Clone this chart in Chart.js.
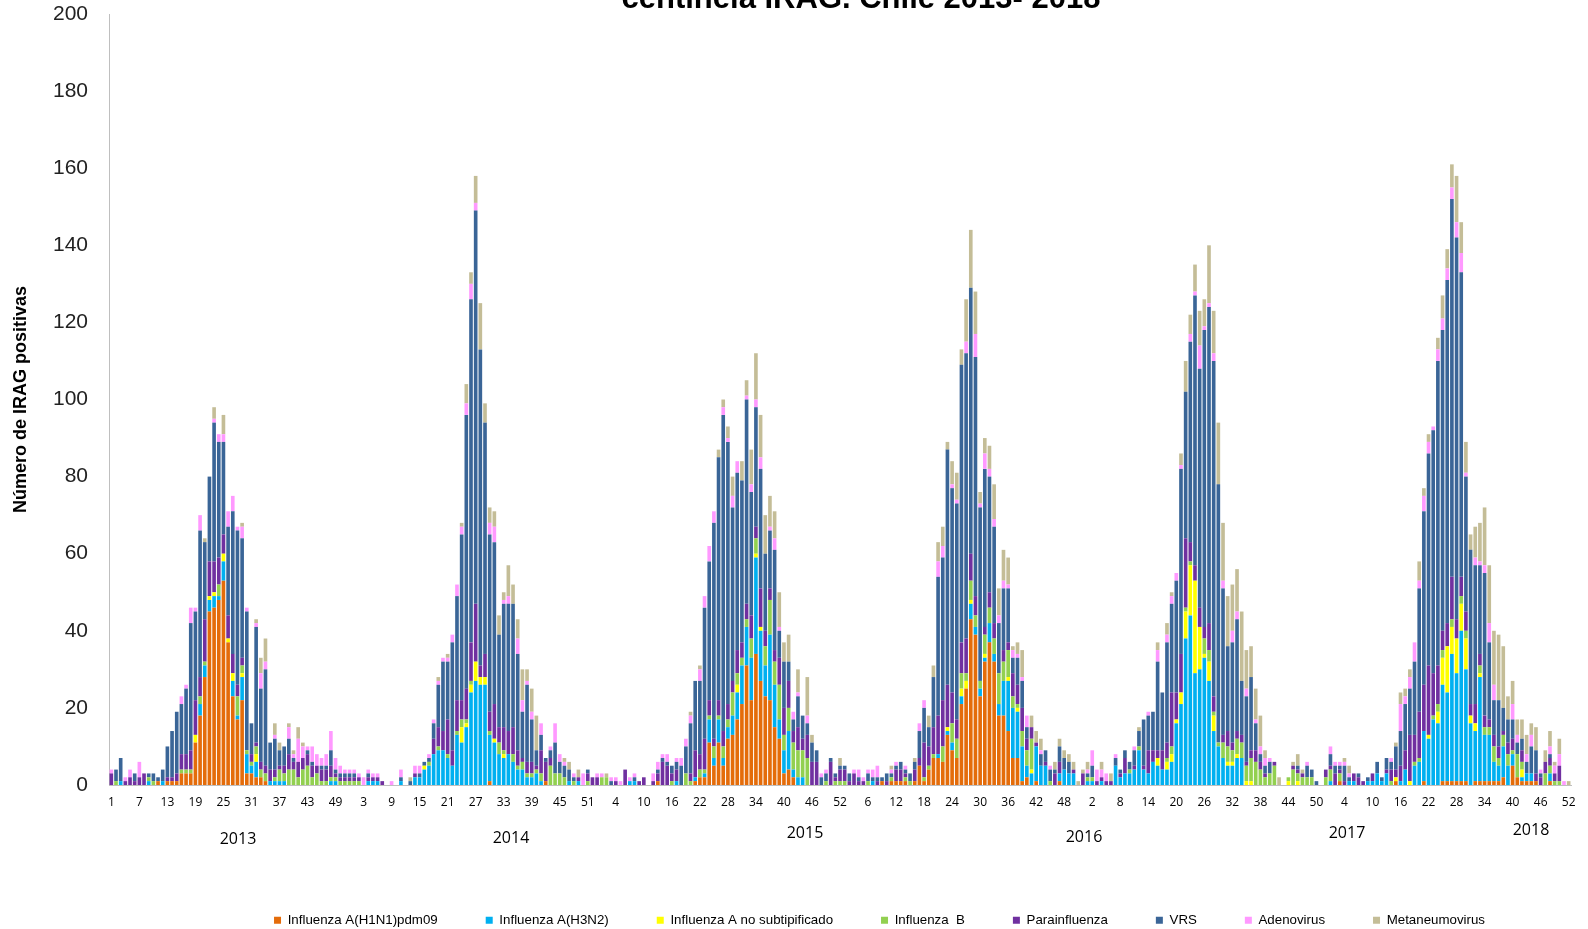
<!DOCTYPE html>
<html><head><meta charset="utf-8">
<script src="https://cdn.jsdelivr.net/npm/chart.js@4.4.1/dist/chart.umd.min.js"></script>
<style>
html,body{margin:0;padding:0;background:#fff;}
#wrap{position:relative;width:1588px;height:929px;overflow:hidden;background:#fff;}
canvas{position:absolute;left:0;top:0;}
.title{position:absolute;left:361px;width:1000px;top:-18px;text-align:center;font:bold 31px "Liberation Sans",Arial,sans-serif;line-height:31px;color:#000;white-space:nowrap;}
.year{position:absolute;font:16px "Open Sans",sans-serif;color:#000;transform:translate(-50%,-50%);white-space:nowrap;}
</style></head><body>
<div id="wrap">
<canvas id="c" width="1588" height="929"></canvas>
<div class="title" id="title"></div>
<div class="year" style="left:238px;top:838px"></div>
<div class="year" style="left:511px;top:837px"></div>
<div class="year" style="left:805px;top:832px"></div>
<div class="year" style="left:1084px;top:836px"></div>
<div class="year" style="left:1347px;top:832px"></div>
<div class="year" style="left:1531px;top:829px"></div>
</div>
<script>
const chartTitle = 'centinela IRAG. Chile 2013- 2018';
const years = ['2013','2014','2015','2016','2017','2018'];
const weeksPerYear = [52,53,52,52,52,52];
const seriesNames = ['Influenza A(H1N1)pdm09','Influenza A(H3N2)','Influenza A no subtipificado','Influenza  B','Parainfluenza','VRS','Adenovirus','Metaneumovirus'];

const h1n1 = [
 0,0,0,0,0,0,0,0,0,0, 1,0,1,1,1,3,3,3,11,18, 28,45,46,48,53,37,23,17,22,3, 3,2,2,1,0,0,0,0,0,0, 0,0,0,0,0,0,0,0,0,0,0,0,
 0,0,0,0,0,0,0,0,0,0, 0,0,0,0,0,0,0,0,0,0, 0,0,0,0,0,0,0,0,0,1, 0,0,0,0,0,0,0,0,0,0, 0,1,0,0,0,0,0,0,0,0,0,0,0,
 0,0,0,0,0,0,0,0,0,0, 0,0,1,0,0,0,0,0,0,0, 1,2,2,11,5,11,5,12,13,17, 21,31,22,34,27,23,22,15,12,3, 4,2,0,0,0,0,0,0,0,0,0,0,
 0,0,0,0,0,0,0,0,1,0, 1,1,1,1,0,1,5,1,4,7, 7,6,13,9,7,21,25,43,39,23, 32,37,32,18,18,14,7,7,1,2, 0,1,0,0,0,0,1,0,0,0,0,0,
 0,0,0,0,0,0,0,0,0,0, 0,0,0,0,0,0,0,0,0,0, 0,0,0,0,0,0,0,0,0,0, 0,0,0,0,0,0,0,0,0,0, 0,0,0,0,0,0,0,0,0,0,0,0,
 0,0,1,0,0,0,0,0,0,0, 0,0,0,0,1,0,0,0,0,0, 1,0,0,0,1,1,1,1,1,1, 0,1,1,1,1,1,1,2,0,5, 2,1,1,1,1,0,0,1,0,0,0,0
];
const h3n2 = [
 0,0,1,0,0,0,0,0,1,0, 0,1,0,0,0,0,0,0,0,3, 3,3,3,1,5,0,4,1,6,5, 2,4,0,0,1,1,1,1,0,0, 0,0,0,0,0,0,0,1,1,0,0,0,
 0,0,0,1,1,1,0,0,0,0, 1,0,0,2,2,4,5,8,9,9, 7,5,13,11,15,24,27,26,26,12, 11,8,7,8,6,4,4,2,2,3, 1,0,0,0,0,0,1,0,1,0,0,0,0,
 0,0,0,0,0,0,1,1,0,0, 0,0,0,0,0,0,1,0,0,0, 1,0,1,6,2,6,2,3,5,7, 10,10,11,25,13,8,17,11,5,6, 10,2,2,2,0,0,0,0,0,0,0,0,
 0,0,0,0,0,0,1,0,0,0, 0,0,0,0,0,0,0,0,0,0, 1,0,1,2,0,2,0,4,2,2, 1,5,2,3,9,13,13,12,9,3, 3,9,5,5,0,0,2,4,3,3,0,0,
 1,1,0,1,0,0,5,2,3,3, 4,9,4,3,6,5,4,4,6,16, 21,38,44,29,30,33,27,14,10,7, 5,5,7,7,0,0,0,0,0,0, 0,0,0,0,0,0,0,0,0,0,0,0,
 1,0,0,0,1,1,0,0,1,1, 3,1,3,0,0,1,4,0,5,6, 13,12,17,16,25,23,33,28,39,29, 16,13,27,12,12,5,4,8,5,3, 0,1,2,2,0,0,0,2,0,0,0,0
];
const aNoSub = [
 0,0,0,0,0,0,0,0,0,0, 0,0,0,0,0,0,0,0,2,0, 0,1,1,0,2,1,2,0,1,0, 0,2,0,0,0,0,0,0,0,0, 0,0,0,0,0,0,0,0,0,0,0,0,
 0,0,0,0,0,0,0,0,0,0, 0,0,0,0,0,1,0,0,0,0, 0,0,0,4,1,2,5,2,2,0, 1,0,1,0,0,0,0,0,0,0, 0,0,0,0,0,0,0,0,0,0,0,0,0,
 0,0,0,0,0,0,0,0,0,0, 0,0,0,0,0,0,0,0,0,0, 0,0,0,0,0,0,0,0,0,2, 0,0,0,1,1,0,0,0,0,0, 0,0,0,0,0,0,0,0,0,0,0,0,
 0,0,0,0,0,0,0,0,0,0, 0,0,0,0,0,0,0,0,0,0, 0,0,1,0,0,2,2,1,0,0, 1,0,0,0,0,1,0,1,0,0, 1,0,0,0,0,0,0,0,0,0,0,0,
 0,0,0,0,0,0,0,0,0,0, 0,0,0,0,0,2,0,2,2,1, 3,7,13,24,11,1,5,4,0,0, 1,1,1,0,1,1,0,0,0,0, 0,0,0,1,0,1,0,0,0,0,0,0,
 0,0,0,0,0,0,0,0,0,0, 0,0,0,0,1,0,0,1,0,0, 0,1,0,3,7,12,7,9,7,8, 2,2,1,0,0,0,0,0,0,0, 0,2,0,0,0,0,0,0,0,0,0,0
];
const infB = [
 0,1,0,0,0,0,0,0,1,1, 0,0,0,0,0,1,1,1,0,2, 1,0,0,3,0,0,0,5,2,1, 1,2,2,2,0,1,3,2,4,4, 2,4,5,2,3,1,1,1,1,1,1,1,
 1,1,0,0,0,0,0,0,0,0, 0,0,0,0,0,0,1,0,1,0, 1,0,1,2,1,1,0,0,0,1, 0,3,1,0,2,1,2,1,1,1, 2,0,5,3,3,2,0,1,0,0,1,0,0,
 2,2,0,0,0,0,0,0,0,0, 0,0,0,0,0,1,0,0,3,1, 0,2,1,1,3,1,3,2,6,3, 2,2,5,4,0,5,9,6,9,4, 6,7,7,7,7,0,0,0,1,0,1,1,
 1,0,0,0,0,1,0,0,0,0, 1,0,0,1,1,0,0,1,1,1, 0,4,0,5,5,4,2,5,3,2, 5,4,4,8,5,7,3,1,4,4, 8,0,0,0,1,0,0,0,0,0,0,0,
 1,1,0,0,0,0,0,0,0,1, 0,1,0,0,0,0,0,1,2,0, 0,1,1,0,0,4,3,1,1,4, 4,3,4,4,4,6,6,4,2,3, 5,0,0,1,4,2,2,2,2,0,0,2,
 3,0,2,0,0,0,0,0,0,0, 0,0,0,1,0,0,0,0,1,1, 0,0,1,2,2,0,2,0,2,2, 0,0,2,2,2,4,2,3,3,1, 6,2,0,0,0,0,3,2,1,1,0,0
];
const parainf = [
 3,0,0,1,2,1,2,3,0,0, 0,0,1,1,2,4,4,5,9,5, 11,9,8,7,5,6,5,3,2,0, 2,1,2,2,3,2,1,2,4,2, 4,3,3,3,2,3,3,3,1,1,1,1,
 1,1,0,1,1,1,1,0,0,0, 0,0,0,1,0,0,0,4,5,5, 9,4,8,5,8,10,15,3,6,5, 9,4,6,6,7,4,1,3,3,1, 6,5,2,0,0,0,0,0,1,0,2,2,2,
 0,0,0,1,0,4,0,0,1,2, 0,1,2,6,5,2,3,0,0,2, 7,4,8,4,2,4,4,4,3,6, 4,4,6,3,10,4,3,3,7,7, 7,3,6,3,6,6,6,0,0,6,1,3,
 3,1,3,1,1,0,0,1,0,1, 0,3,3,1,0,3,2,9,5,7, 10,12,11,8,5,8,9,7,5,0, 2,4,4,0,3,2,6,5,6,3, 3,1,0,1,0,3,3,0,0,1,0,3,
 0,0,1,1,1,1,0,1,4,0, 1,0,1,6,3,2,5,4,14,7, 10,18,5,4,5,3,7,4,0,2, 4,2,2,2,1,2,3,2,1,0, 1,0,0,0,1,1,1,0,0,0,0,2,
 1,3,1,1,0,2,2,1,0,2, 0,0,1,3,2,4,5,12,7,12, 12,18,11,10,5,6,11,5,5,5, 3,5,3,3,2,3,3,1,3,3, 0,3,0,0,2,2,3,2,2,4,0,0
];
const vrs = [
 0,3,6,0,0,2,0,0,1,2, 1,3,8,12,16,13,17,33,23,38, 20,22,36,30,24,23,37,40,31,36, 8,30,19,25,7,8,4,5,4,1, 0,0,1,1,0,1,1,4,1,1,1,1,
 1,0,0,1,0,0,0,0,0,0, 1,0,1,0,1,1,1,4,11,18, 15,28,27,43,71,89,102,82,60,46, 42,24,32,33,32,25,12,20,11,4, 4,1,2,8,3,3,3,1,0,0,1,0,0,
 0,0,1,0,0,0,0,1,0,0, 0,0,1,1,1,2,2,5,7,13, 18,19,34,36,56,63,82,68,45,46, 42,53,32,31,31,20,15,26,7,12, 5,3,8,6,3,5,3,2,2,1,1,1,
 1,2,0,1,0,2,1,1,1,2, 1,1,2,1,2,2,7,9,5,13, 36,37,61,53,56,72,74,69,62,45, 41,30,25,13,16,14,4,7,7,3, 0,0,3,3,3,1,4,3,3,0,0,0,
 1,3,0,0,0,0,2,1,2,2, 4,4,12,9,10,23,15,26,23,29, 48,38,52,70,62,77,82,87,67,38, 22,26,29,14,17,19,7,2,2,3, 0,0,0,0,0,1,0,3,2,1,0,0,
 3,2,1,4,1,0,1,0,1,0, 3,1,3,2,6,9,12,12,19,32, 45,55,63,79,78,89,98,99,79,35, 40,36,23,37,20,9,12,6,6,5, 3,3,3,7,6,1,0,1,0,0,0,0
];
const adeno = [
 1,0,0,1,2,0,4,0,0,0, 0,0,0,0,0,2,1,4,1,4, 0,0,1,2,2,4,4,1,3,1, 0,1,4,2,0,1,0,0,3,1, 6,3,1,4,3,2,3,5,3,2,1,1,
 1,1,2,1,1,1,0,0,1,0, 2,0,0,2,2,0,1,1,1,1, 1,2,3,2,3,4,2,0,0,3, 4,0,1,2,0,4,3,1,2,0, 3,0,1,5,2,1,0,1,0,3,0,0,1,
 1,0,1,1,1,0,1,1,0,0, 0,2,2,1,2,0,1,2,2,2, 0,3,3,4,3,0,2,1,3,3, 0,1,2,2,3,0,1,3,1,0, 0,2,1,0,2,0,0,1,1,0,0,0,
 0,0,1,2,1,1,2,3,0,0, 1,1,0,1,0,0,2,2,0,0, 4,3,0,1,1,0,3,0,6,1, 4,2,2,2,2,1,2,1,1,3, 0,0,1,0,1,0,0,0,0,0,0,0,
 1,4,3,2,2,0,1,0,0,0, 1,0,0,1,0,3,0,2,2,2, 1,0,2,1,6,1,1,2,0,2, 0,3,2,0,2,0,1,2,2,1, 0,0,0,0,0,0,0,1,0,0,0,0,
 2,1,1,1,1,0,0,0,0,0, 0,0,0,1,0,7,2,3,5,2, 4,3,1,3,3,3,3,4,5,1, 0,2,1,2,5,4,0,0,0,4, 2,0,2,3,0,1,0,2,2,3,1,0
];
const metaneumo = [
 0,0,0,0,0,0,0,0,0,0, 0,0,0,0,0,0,0,0,0,0, 1,0,3,0,5,0,0,0,1,0, 0,1,4,6,0,3,2,0,1,1, 3,1,0,0,0,0,0,0,0,0,0,0,
 0,0,0,0,0,0,0,0,0,0, 0,0,1,0,0,0,0,0,1,0, 1,0,0,1,5,3,7,12,5,4, 4,5,2,8,5,5,8,3,6,9, 0,0,0,0,0,1,2,0,2,0,0,0,0,
 0,1,0,0,0,0,0,0,0,0, 0,0,0,0,0,0,0,0,0,1, 0,1,0,0,0,2,2,3,5,0, 5,4,9,12,11,10,8,7,9,5, 7,0,6,0,10,2,0,0,0,0,0,2,
 0,0,0,0,0,0,0,0,0,0, 1,0,0,0,0,1,0,0,3,3, 5,5,2,6,7,4,11,15,11,3, 4,6,9,7,8,7,1,3,7,0, 3,3,3,0,0,2,2,2,2,2,1,1,
 2,0,0,2,0,2,0,0,0,0, 0,1,0,0,0,2,0,3,1,0, 3,8,5,7,9,7,15,11,16,15, 13,12,11,18,10,8,8,8,2,0, 0,2,0,0,1,3,1,0,0,0,0,0,
 0,0,0,1,2,0,0,0,0,0, 0,0,0,0,1,3,2,2,0,5, 2,2,0,3,6,5,6,12,8,8, 4,8,10,15,15,14,17,16,6,6, 4,5,5,3,6,0,3,4,1,4,0,1
];

const seriesValues = [h1n1, h3n2, aNoSub, infB, parainf, vrs, adeno, metaneumo];
const seriesColors = ['#E46C0A','#00B0F0','#FFFF00','#92D050','#7030A0','#3A6597','#FF99FF','#C4BD97'];

// week labels built from the number of weeks in each year
const weekLabels = [];
weeksPerYear.forEach(n => { for (let w = 1; w <= n; w++) weekLabels.push(String(w)); });
seriesValues.forEach((a, i) => { if (a.length !== weekLabels.length) console.error('length mismatch', seriesNames[i], a.length, weekLabels.length); });

document.getElementById('title').textContent = chartTitle;
document.querySelectorAll('.year').forEach((el, i) => { el.textContent = years[i]; });

const PLOT_BOTTOM = 785;

const legendShift = {
  id: 'legendShift',
  afterLayout(chart) {
    const l = chart.legend;
    if (!l) return;
    l.left += 89; l.right += 89; l.top += 8; l.bottom += 8;
  }
};

new Chart(document.getElementById('c'), {
  type: 'bar',
  data: {
    labels: weekLabels,
    datasets: seriesNames.map((name, i) => ({
      label: name,
      data: seriesValues[i],
      backgroundColor: seriesColors[i],
      borderWidth: 0,
      barPercentage: 0.78,
      categoryPercentage: 1
    }))
  },
  options: {
    responsive: false,
    animation: false,
    devicePixelRatio: 1,
    layout: { autoPadding: false, padding: { left: 10, right: 17, top: 14, bottom: 0 } },
    plugins: {
      legend: {
        position: 'bottom',
        labels: {
          boxWidth: 7, boxHeight: 7, padding: 48, color: '#000',
          font: { family: "'Liberation Sans',Arial", size: 13.3 }
        }
      },
      tooltip: { enabled: false },
      title: { display: false }
    },
    scales: {
      x: {
        stacked: true,
        grid: { display: false, drawTicks: false },
        border: { display: true, color: '#BFBFBF', width: 1 },
        ticks: {
          autoSkip: false, maxRotation: 0, minRotation: 0, padding: 10, color: '#000',
          font: { family: "'Open Sans'", size: 12 },
          callback: (v, i) => (i % 6 === 0 ? weekLabels[i] : '')
        },
        afterFit: s => {
          const lh = s.chart.legend ? s.chart.legend.height : 0;
          s.height = s.chart.height - PLOT_BOTTOM - lh;
        }
      },
      y: {
        stacked: true, min: 0, max: 200,
        grid: { display: false, drawTicks: false },
        border: { display: true, color: '#BFBFBF', width: 1 },
        ticks: { stepSize: 20, padding: 21, color: '#222', font: { family: "'Liberation Sans'", size: 21 } },
        title: { display: true, text: 'Número de IRAG positivas', color: '#000', padding: 0,
                 font: { family: "'Liberation Sans'", size: 18, weight: 'bold' } },
        afterFit: s => { s.width = 99; s.paddingTop = 0; s.paddingBottom = 0; }
      }
    }
  },
  plugins: [legendShift]
});
</script>
</body></html>
